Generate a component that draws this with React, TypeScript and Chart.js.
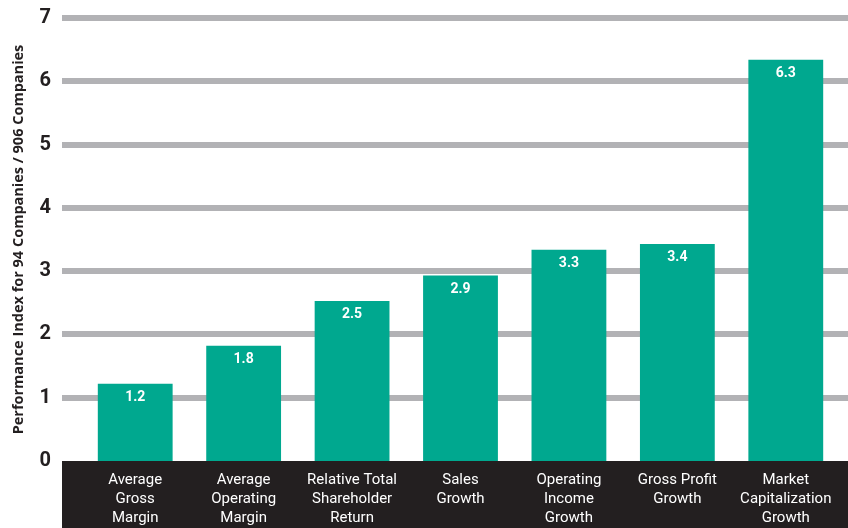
import React, { useEffect, useRef } from "react";
import { Chart, registerables } from "chart.js";

Chart.register(...registerables);

const categories: string[][] = [
  ["Average", "Gross", "Margin"],
  ["Average", "Operating", "Margin"],
  ["Relative Total", "Shareholder", "Return"],
  ["Sales", "Growth"],
  ["Operating", "Income", "Growth"],
  ["Gross Profit", "Growth"],
  ["Market", "Capitalization", "Growth"],
];
const values: number[] = [1.22, 1.82, 2.53, 2.93, 3.34, 3.43, 6.34];
const yTitle = "Performance Index for 94 Companies / 906 Companies";

const TEAL = "#00a88f";
const DARK = "#231f20";
const GRID = "#b2b2b5";
const FONT = "Roboto, 'DejaVu Sans', sans-serif";

const decorPlugin = {
  id: "decor",
  beforeDraw(chart: any) {
    const { ctx } = chart;
    const y = chart.scales.y;
    const y0 = y.getPixelForValue(0);
    ctx.save();
    ctx.fillStyle = DARK;
    ctx.fillRect(62, y0, chart.width - 62, chart.height - y0);
    ctx.strokeStyle = GRID;
    ctx.lineWidth = 6;
    y.ticks.forEach((t: any) => {
      if (t.value <= 0) return;
      const py = Math.round(y.getPixelForValue(t.value));
      ctx.beginPath();
      ctx.moveTo(62, py);
      ctx.lineTo(chart.width, py);
      ctx.stroke();
    });
    ctx.restore();
  },
  afterDatasetsDraw(chart: any) {
    const { ctx } = chart;
    const meta = chart.getDatasetMeta(0);
    ctx.save();
    ctx.fillStyle = "#ffffff";
    ctx.font = `bold 14px ${FONT}`;
    ctx.textAlign = "center";
    ctx.textBaseline = "middle";
    meta.data.forEach((bar: any, i: number) => {
      ctx.fillText(values[i].toFixed(1), bar.x, bar.y + 14);
    });
    ctx.restore();
  },
};

export default function App() {
  const ref = useRef<HTMLCanvasElement>(null);
  useEffect(() => {
    document.body.style.margin = "0";
    const chart = new Chart(ref.current!, {
      type: "bar",
      data: {
        labels: categories,
        datasets: [
          {
            data: values,
            backgroundColor: TEAL,
            barPercentage: 0.69,
            categoryPercentage: 1,
          },
        ],
      },
      options: {
        animation: false,
        responsive: false,
        maintainAspectRatio: false,
        layout: { padding: { left: 0, right: 8, top: 18, bottom: 0 } },
        plugins: { legend: { display: false }, tooltip: { enabled: false } },
        scales: {
          x: {
            grid: { display: false },
            border: { display: false },
            ticks: {
              color: "#ffffff",
              font: { family: FONT, size: 15, lineHeight: 1.27 },
              padding: 2,
              maxRotation: 0,
              autoSkip: false,
            },
            afterFit(scale: any) {
              scale.height = 67;
              scale.paddingLeft = 0;
              scale.paddingRight = 0;
            },
          },
          y: {
            min: 0,
            max: 7,
            grid: { display: false },
            border: { display: false },
            ticks: {
              stepSize: 1,
              color: DARK,
              font: { family: FONT, size: 20, weight: "bold" },
              padding: 22,
            },
            title: {
              display: true,
              text: yTitle,
              color: DARK,
              font: { family: "'Open Sans', sans-serif", size: 14.5, weight: "bold" },
              padding: { top: 10, bottom: 0 },
            },
            afterFit(scale: any) {
              scale.width = 81;
              scale.paddingTop = 0;
              scale.paddingBottom = 0;
            },
          },
        },
      },
      plugins: [decorPlugin],
    });
    return () => chart.destroy();
  }, []);
  return (
    <div style={{ width: 848, height: 528 }}>
      <canvas ref={ref} width={848} height={528} style={{ width: 848, height: 528 }} />
    </div>
  );
}
